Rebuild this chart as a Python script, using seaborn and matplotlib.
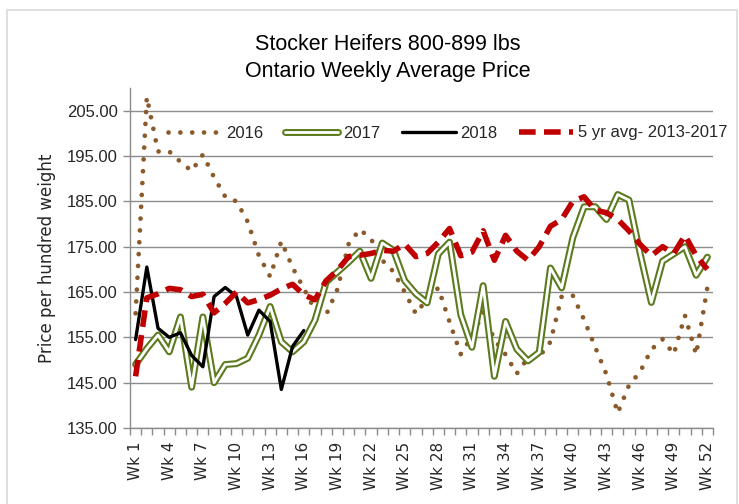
import matplotlib
matplotlib.use('Agg')
import matplotlib.pyplot as plt
from matplotlib.legend_handler import HandlerTuple
from matplotlib.patches import Rectangle
from matplotlib.ticker import FixedLocator, FormatStrFormatter
import seaborn as sns
import pandas as pd

# ── DATA ──────────────────────────────────────────────────────
weeks = list(range(1, 53))
tick_weeks = list(range(1, 53, 3))
tick_labels = [f"Wk {w}" for w in tick_weeks]

price_2016 = [160.3, 208.0, 196.0, 196.0, 193.7, 191.7, 195.3, 190.3, 186.0, 185.0,
              180.5, 173.0, 168.4, 176.2, 170.4, 165.8, 161.0, 160.0, 165.6, 175.6,
              178.8, 176.7, 172.0, 169.5, 165.0, 160.2, 163.5, 165.9, 158.4, 151.3,
              155.2, 160.5, 154.5, 151.2, 147.0, 150.5, 150.7, 154.0, 164.0, 164.2,
              158.9, 152.8, 146.8, 138.3, 144.4, 147.4, 152.3, 154.6, 151.3, 159.8,
              151.2, 166.0]

price_2017 = [149.0, 152.5, 155.5, 151.8, 159.5, 144.0, 159.5, 145.0, 149.0, 149.2,
              150.4, 155.5, 161.8, 154.0, 151.8, 154.0, 158.8, 167.2, 169.4, 171.6,
              174.0, 168.0, 175.8, 174.2, 167.5, 164.6, 162.6, 173.4, 176.0, 160.0,
              152.8, 166.4, 146.4, 158.5, 152.4, 149.8, 151.7, 170.3, 165.9, 177.0,
              183.8, 183.8, 181.0, 186.5, 185.3, 173.5, 162.7, 171.8, 173.4, 175.0,
              168.7, 172.7]

price_2018 = [154.5, 170.5, 157.0, 155.0, 156.0, 151.0, 148.5, 164.0, 166.0, 164.0,
              155.5, 161.0, 158.5, 143.5, 153.0, 156.5]

avg_5yr = [146.4, 163.7, 164.6, 165.8, 165.5, 164.0, 164.5, 160.4, 162.5, 165.0,
           162.6, 163.3, 164.3, 165.7, 166.7, 164.4, 163.3, 167.5, 169.8, 172.8,
           173.1, 173.5, 174.2, 174.0, 175.6, 172.8, 173.5, 176.0, 179.0, 173.0,
           173.8, 178.5, 172.0, 177.5, 174.0, 172.0, 175.0, 179.5, 181.0, 185.0,
           186.0, 183.0, 182.5, 181.0, 178.5, 175.5, 173.0, 175.0, 173.5, 177.5,
           173.0, 170.0]

y_ticks = [135, 145, 155, 165, 175, 185, 195, 205]

df = pd.DataFrame({'week': weeks, '2016': price_2016, '2017': price_2017,
                   '5yr': avg_5yr})
df18 = pd.DataFrame({'week': weeks[:len(price_2018)], '2018': price_2018})

# ── STYLE ─────────────────────────────────────────────────────
sns.set_style("white")
plt.rcParams['font.family'] = ['Liberation Sans', 'DejaVu Sans']

BROWN = '#8B5A2B'
GREEN = '#5B7B1E'
RED = '#C00000'

fig = plt.figure(figsize=(7.39, 5.04), dpi=100)
ax = fig.add_axes([130 / 739, 1 - 428 / 504, 583 / 739, 340 / 504])

# ── LINES ─────────────────────────────────────────────────────
sns.lineplot(data=df, x='week', y='2016', ax=ax, color=BROWN, linewidth=3.4,
             linestyle=(0, (0.01, 2.5)), dash_capstyle='round', label='2016')
sns.lineplot(data=df, x='week', y='2017', ax=ax, color=GREEN, linewidth=5.0,
             label='2017')
sns.lineplot(data=df, x='week', y='2017', ax=ax, color='white', linewidth=2.0,
             label='_nolegend_')
sns.lineplot(data=df18, x='week', y='2018', ax=ax, color='black', linewidth=2.4,
             label='2018')
sns.lineplot(data=df, x='week', y='5yr', ax=ax, color=RED, linewidth=4.0,
             linestyle=(0, (3, 1.5)), label='5 yr avg- 2013-2017')

# ── AXES ──────────────────────────────────────────────────────
ax.set_xlim(0.5, 52.5)
ax.set_ylim(135, 210)
ax.set_yticks(y_ticks)
ax.yaxis.set_major_formatter(FormatStrFormatter('%.2f'))
ax.yaxis.grid(True, color='#8C8C8C', linewidth=1.0)
ax.set_axisbelow(True)

ax.set_xticks(tick_weeks)
ax.set_xticklabels(tick_labels, rotation=90, family='DejaVu Sans', fontsize=11)
ax.xaxis.set_minor_locator(FixedLocator([w + 0.5 for w in range(0, 53)]))
ax.tick_params(axis='x', which='major', length=0, pad=10)
ax.tick_params(axis='x', which='minor', length=5, width=1, color='#8C8C8C',
               direction='out', bottom=True)
ax.tick_params(axis='y', which='major', length=5, width=1, color='#8C8C8C',
               direction='out', left=True, labelsize=12, pad=4)

for side in ['top', 'right']:
    ax.spines[side].set_visible(False)
for side in ['left', 'bottom']:
    ax.spines[side].set_color('#8C8C8C')
    ax.spines[side].set_linewidth(1.0)

ax.set_xlabel('')
ax.set_ylabel('Price per hundred weight', family='DejaVu Sans', fontsize=12)
ax.yaxis.set_label_coords(-0.127, 0.5)

# ── LEGEND ────────────────────────────────────────────────────
lines = ax.get_lines()
handles = [lines[0], (lines[1], lines[2]), lines[3], lines[4]]
labels = ['2016', '2017', '2018', '5 yr avg- 2013-2017']
ax.legend(handles, labels, handler_map={tuple: HandlerTuple(ndivide=1)},
          ncol=4, frameon=False, fontsize=12, loc='center left',
          bbox_to_anchor=(168 / 739, 1 - 133 / 504), bbox_transform=fig.transFigure,
          borderpad=0, borderaxespad=0, handlelength=3.2, handletextpad=0.3,
          columnspacing=1.3)

# ── TITLE + BORDER ────────────────────────────────────────────
fig.text(388 / 739, 1 - 58 / 504, 'Stocker Heifers 800-899 lbs\nOntario Weekly Average Price',
         ha='center', va='center', fontsize=15.5, linespacing=1.4, color='black')
fig.patches.append(Rectangle((7 / 739, -0.01), 730 / 739, 1.01 - 10 / 504,
                             transform=fig.transFigure, fill=False,
                             edgecolor='#D9D9D9', linewidth=1.2))

plt.savefig('out.png', dpi=100)
plt.close()
